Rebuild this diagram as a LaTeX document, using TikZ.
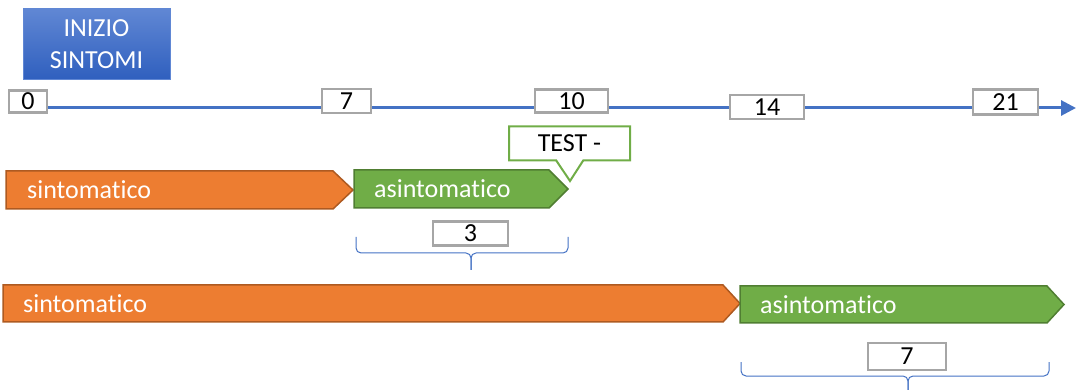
\documentclass[tikz,border=0pt]{standalone}
\usepackage{fontspec}
\setmainfont{Carlito}[Ligatures=NoCommon]
\usetikzlibrary{arrows.meta,shapes.callouts}
\definecolor{axisblue}{RGB}{68,114,196}
\definecolor{sintofill}{RGB}{237,125,49}
\definecolor{sintodraw}{RGB}{174,90,33}
\definecolor{asintofill}{RGB}{112,173,71}
\definecolor{asintodraw}{RGB}{80,126,50}
\definecolor{boxgray}{RGB}{166,166,166}
\definecolor{topblue}{RGB}{96,135,212}
\definecolor{botblue}{RGB}{47,95,190}
\tikzset{
  daybox/.style={draw=boxgray, line width=2.2pt, fill=white, inner sep=0pt, font=\fontsize{26}{30}\selectfont},
  sinto/.style={fill=sintofill, draw=sintodraw, line width=1.5pt},
  asinto/.style={fill=asintofill, draw=asintodraw, line width=1.5pt},
  bartext/.style={anchor=west, text=white, inner sep=0pt, font=\fontsize{26}{30}\selectfont},
  durbrace/.style={draw=axisblue, line width=1pt, rounded corners=5pt},
}
\begin{document}
\begin{tikzpicture}[x=1pt,y=-1pt]
\useasboundingbox (0,0) rectangle (1088,390);
\node[top color=topblue, bottom color=botblue, draw=topblue, line width=1pt, minimum width=147pt, minimum height=71pt, align=center, text=white, font=\fontsize{26}{32}\selectfont] (inizio) at (96.5,44.5) {INIZIO\\SINTOMI};
\coordinate (tstart) at (48,108);
\coordinate (tend) at (1076,108);
\draw[axisblue, line width=3pt, -{Triangle[length=15pt,width=15pt]}] (tstart) -- (tend);
\node[daybox, minimum width=38pt, minimum height=22pt] (d0) at (28,101.5) {0};
\node[daybox, minimum width=49pt, minimum height=24pt] (d7) at (346.5,101) {7};
\node[daybox, minimum width=73pt, minimum height=23pt] (d10) at (571.5,101) {10};
\node[daybox, minimum width=74pt, minimum height=24pt] (d14) at (767,107) {14};
\node[daybox, minimum width=65pt, minimum height=25pt] (d21) at (1005.5,102) {21};
\filldraw[sinto] (6,171) -- (333,171) -- (353,190) -- (333,209) -- (6,209) -- cycle;
\filldraw[asinto] (354,170) -- (549,170) -- (568,189) -- (549,208) -- (354,208) -- cycle;
\filldraw[sinto] (3,285) -- (723,285) -- (740,303.5) -- (723,322) -- (3,322) -- cycle;
\filldraw[asinto] (740,286) -- (1047,286) -- (1064,304.5) -- (1047,323) -- (740,323) -- cycle;
\node[bartext] (s1) at (27,190) {sintomatico};
\node[bartext] (a1) at (374,189) {asintomatico};
\node[bartext] (s2) at (23,304) {sintomatico};
\node[bartext] (a2) at (760,305) {asintomatico};
\node[rectangle callout, callout absolute pointer={(570,181)}, callout pointer width=27pt, draw=asintofill, line width=2pt, fill=white, minimum width=121pt, minimum height=34pt, inner sep=0pt, font=\fontsize{26}{30}\selectfont] (test) at (569.5,143.5) {TEST -};
\coordinate (b3tip) at (471,270);
\coordinate (b7tip) at (908,390);
\draw[durbrace] (356,237) -- (356,253) -- (b3tip |- 0,253) -- (b3tip);
\draw[durbrace] (568,237) -- (568,253) -- (b3tip |- 0,253) -- (b3tip);
\node[daybox, minimum width=75pt, minimum height=24pt] (n3) at (470.5,233.5) {3};
\draw[durbrace] (741,362) -- (741,376) -- (b7tip |- 0,376) -- (b7tip);
\draw[durbrace] (1049,362) -- (1049,376) -- (b7tip |- 0,376) -- (b7tip);
\node[daybox, minimum width=78pt, minimum height=27pt] (n7) at (907,356.5) {7};
\end{tikzpicture}
\end{document}
